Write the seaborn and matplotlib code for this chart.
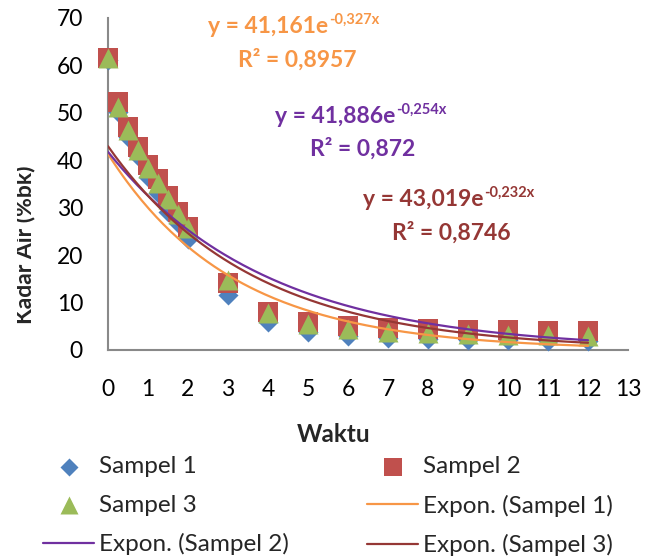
import numpy as np
import matplotlib.pyplot as plt
import seaborn as sns
from matplotlib.transforms import Bbox, TransformedBbox

# data
waktu = [0, 0.25, 0.5, 0.75, 1, 1.25, 1.5, 1.75, 2, 3, 4, 5, 6, 7, 8, 9, 10, 11, 12]
sampel_1 = [61.2, 50.2, 45.0, 40.8, 36.5, 33.0, 29.2, 26.7, 23.5, 11.6, 6.0, 3.9, 2.9, 2.5, 2.3, 2.2, 2.1, 2.0, 1.9]
sampel_2 = [61.5, 52.2, 47.0, 42.7, 39.0, 36.0, 32.5, 29.2, 26.0, 14.2, 8.0, 5.8, 5.0, 4.6, 4.4, 4.2, 4.2, 4.1, 4.1]
sampel_3 = [61.5, 51.3, 46.3, 42.1, 38.4, 35.3, 31.9, 28.6, 25.8, 14.7, 7.9, 5.5, 4.5, 3.7, 3.6, 3.3, 3.2, 3.1, 3.0]

# trendline labels as printed on the chart
persamaan = ["y = 41,161e", "y = 41,886e", "y = 43,019e"]
pangkat = ["-0,327x", "-0,254x", "-0,232x"]
r_kuadrat = ["R\u00b2 = 0,8957", "R\u00b2 = 0,872", "R\u00b2 = 0,8746"]

warna_titik = ["#4F81BD", "#C0504D", "#9BBB59"]
warna_trend = ["#F79646", "#7030A0", "#953735"]

sns.set_theme(style="white")
plt.rcParams['font.family'] = ['Lato', 'DejaVu Sans']
fs = 16.5

fig = plt.figure(figsize=(6.45, 5.56), dpi=100)
ax = fig.add_axes([108/645, 1-350/556, 520/645, 332/556])

# scatter series
sns.scatterplot(x=waktu, y=sampel_1, marker='D', s=104, color=warna_titik[0],
                linewidth=0, label='Sampel 1', ax=ax, clip_on=False, zorder=3)
sns.scatterplot(x=waktu, y=sampel_2, marker='s', s=207, color=warna_titik[1],
                linewidth=0, label='Sampel 2', ax=ax, clip_on=False, zorder=3)
sns.scatterplot(x=waktu, y=sampel_3, marker='^', s=207, color=warna_titik[2],
                linewidth=0, label='Sampel 3', ax=ax, clip_on=False, zorder=3)

# exponential trendlines (least squares on ln y, like Excel)
x_fit = np.linspace(0, 12, 200)
for i, data in enumerate([sampel_1, sampel_2, sampel_3]):
    b, ln_a = np.polyfit(waktu, np.log(data), 1)
    sns.lineplot(x=x_fit, y=np.exp(ln_a) * np.exp(b * x_fit), color=warna_trend[i],
                 linewidth=1.6, label='Expon. (Sampel %d)' % (i + 1), ax=ax, zorder=4)

# equation labels
pos_eq = [(2.5, 66.8), (4.175, 47.9), (6.375, 30.4)]
pos_r2 = [(3.25, 59.7), (5.05, 40.9), (7.1, 23.2)]
for i in range(3):
    t = ax.text(pos_eq[i][0], pos_eq[i][1], persamaan[i], color=warna_trend[i],
                fontsize=fs, fontweight='bold', va='baseline', ha='left', zorder=5)
    ax.annotate(pangkat[i], xy=(1, 0), xycoords=t, xytext=(0.5, 9.5),
                textcoords='offset points', va='baseline', ha='left',
                color=warna_trend[i], fontsize=10.5, fontweight='bold')
    ax.text(pos_r2[i][0], pos_r2[i][1], r_kuadrat[i], color=warna_trend[i],
            fontsize=fs, fontweight='bold', va='baseline', ha='left', zorder=5)

ax.set_xlim(0, 13)
ax.set_ylim(0, 70)
ax.set_xticks(range(0, 14))
ax.set_yticks(range(0, 71, 10))
ax.tick_params(axis='both', length=0, labelsize=fs, colors='black')
ax.tick_params(axis='x', pad=21)
ax.tick_params(axis='y', pad=18)
for s in ['top', 'right']:
    ax.spines[s].set_visible(False)
for s in ['left', 'bottom']:
    ax.spines[s].set_color('#898989')
    ax.spines[s].set_linewidth(1.5)
ax.grid(False)

# axis titles
ax.set_xlabel('')
ax.set_ylabel('Kadar Air (%bk)', fontsize=fs, fontweight='bold')
ax.yaxis.set_label_coords((35 - 108) / 520, (350 - 245) / 332)
lab = ax.yaxis.label
lab.set_clip_box(TransformedBbox(Bbox([[17/645, 0], [1, 1]]), fig.transFigure))
lab.set_clip_on(True)
fig.text(334/645, 1 - 435/556, 'Waktu', fontsize=fs + 1, fontweight='bold',
         ha='center', va='center')

# legend, filled row by row like Excel
h, l = ax.get_legend_handles_labels()
order = [0, 2, 4, 1, 3, 5]
ax.legend([h[i] for i in order], [l[i] for i in order], ncol=2, frameon=False,
          loc='upper left', bbox_to_anchor=(43/645, 1 - 456/556),
          bbox_transform=fig.transFigure, fontsize=17.5, markerscale=0.9,
          handlelength=2.1, handletextpad=0.22, columnspacing=3.2,
          labelspacing=0.72, borderpad=0, borderaxespad=0)

plt.savefig('out.png', dpi=100)
